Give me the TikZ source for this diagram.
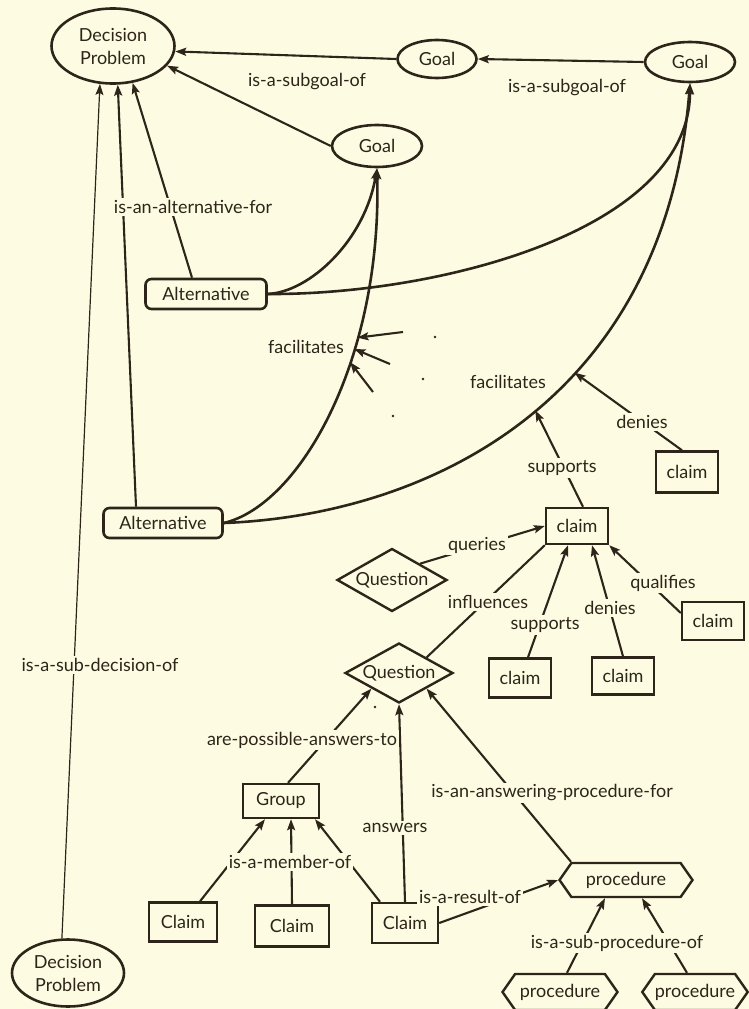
\documentclass[tikz,border=0pt]{standalone}
\usepackage{fontspec}
\setmainfont{Lato}
\usetikzlibrary{shapes.geometric,shapes.symbols,arrows.meta}
\definecolor{paper}{RGB}{253,252,226}
\definecolor{ink}{RGB}{45,37,25}
\tikzset{
  every node/.style={text=ink, font=\fontsize{18}{23}\selectfont},
  ell/.style={ellipse, draw=ink, line width=2.6pt, inner sep=0pt, align=center},
  altbox/.style={rectangle, rounded corners=6pt, draw=ink, line width=2.6pt, minimum width=119pt, minimum height=30pt, inner sep=0pt},
  clbox/.style={rectangle, draw=ink, line width=2.4pt, minimum width=62pt, minimum height=39pt, inner sep=0pt},
  quest/.style={diamond, aspect=1.8, draw=ink, line width=2.4pt, minimum width=108pt, minimum height=60pt, inner sep=0pt},
  procbox/.style={signal, signal to=west and east, signal pointer angle=110, draw=ink, line width=2.4pt, minimum width=115pt, minimum height=36pt, inner sep=0pt},
  rel/.style={fill=paper, inner sep=2pt},
  link/.style={draw=ink, line width=2.1pt, -{Stealth[length=11pt,width=8pt,inset=2pt]}},
  curvelink/.style={line width=2.6pt},
  hairlink/.style={line width=1.2pt}
}
\begin{document}
\begin{tikzpicture}[x=1pt,y=-1pt]
\fill[paper] (0,0) rectangle (749,1009);
\useasboundingbox (0,0) rectangle (749,1009);

\node[ell, minimum width=123pt, minimum height=75pt] (dp) at (113,46) {Decision\\Problem};
\node[ell, minimum width=79pt, minimum height=38pt] (goalA) at (437,59) {Goal};
\node[ell, minimum width=90pt, minimum height=40pt] (goalB) at (690,62) {Goal};
\node[ell, minimum width=90pt, minimum height=42pt] (goalC) at (377,146) {Goal};
\node[altbox, minimum width=121pt] (altA) at (206,294) {Alternative};
\node[altbox] (altB) at (163,523) {Alternative};
\node[clbox, minimum height=41pt] (clD) at (687,472) {claim};
\node[clbox, minimum height=36pt] (cl) at (577,526) {claim};
\node[quest, minimum width=110pt, minimum height=63pt] (qB) at (392,580) {Question};
\node[clbox, minimum height=38pt] (clQ) at (713,621) {claim};
\node[clbox] (clS) at (520,678) {claim};
\node[clbox, minimum height=37pt] (clN) at (623,676) {claim};
\node[quest] (q) at (399,673) {Question};
\node[clbox, minimum width=76pt, minimum height=34pt] (grp) at (281,801) {Group};
\node[clbox, minimum width=68pt] (cmA) at (183,922) {Claim};
\node[clbox, minimum width=74pt, minimum height=41pt] (cmB) at (292,926) {Claim};
\node[clbox, minimum width=66pt, minimum height=40pt] (cmC) at (405,923) {Claim};
\node[procbox, minimum width=133pt, minimum height=34pt] (pr) at (626,880) {procedure};
\node[procbox] (prA) at (560,992) {procedure};
\node[procbox, minimum width=104pt] (prB) at (695,992) {procedure};
\node[ell, minimum width=112pt, minimum height=67pt] (dpB) at (68,973) {Decision\\Problem};

\coordinate (fsA) at (403,332);
\coordinate (fsB) at (390,364);
\coordinate (fsC) at (373,392);

\begin{scope}[link]
  \draw (goalA.west) to (dp.355);
  \draw (goalB.west) to (goalA.east);
  \draw (goalC.west) to (dp.340);
  \draw ([xshift=-14pt]altA.north) to (dp.298);
  \draw ([xshift=-27pt]altB.north) to (dp.277);
  \draw[hairlink] (dpB.100) to (dp.251);
  \draw[curvelink] (altA.east) .. controls (310,292) and (365,240) .. (goalC.south);
  \draw[curvelink] (altA.east) .. controls (440,295) and (690,230) .. (goalB.south);
  \draw[curvelink] (altB.east) .. controls (300,505) and (382,360) .. (goalC.south)
    coordinate[pos=0.62] (fa) coordinate[pos=0.65] (fb) coordinate[pos=0.675] (fc);
  \draw[curvelink] (altB.east) .. controls (430,515) and (665,400) .. (goalB.south)
    coordinate[pos=0.52] (fs) coordinate[pos=0.6] (fd);
  \draw (fsA) to (fc);
  \draw (fsB) to (fb);
  \draw (fsC) to (fa);
  \draw ([xshift=-5pt]clD.north) to (fd);
  \draw ([xshift=6pt]cl.north) to (fs);
  \draw (qB.north east) to (cl.west);
  \draw[-] (cl.south west) to (q.north east);
  \draw ([xshift=8pt]clS.north) to ([xshift=-9pt]cl.south);
  \draw (clN.north) to ([xshift=15pt]cl.south);
  \draw ([yshift=8pt]clQ.west) to (cl.south east);
  \draw ([xshift=7pt]grp.north) to (q.south west);
  \draw (cmC.north) to (q.south);
  \draw ([xshift=-55pt]pr.north) to (q.south east);
  \draw ([xshift=17pt]cmA.north) to ([xshift=-16pt]grp.south);
  \draw (cmB.north) to ([xshift=10pt]grp.south);
  \draw ([xshift=-25pt]cmC.north) to ([xshift=34pt]grp.south);
  \draw (cmC.east) to (pr.west);
  \draw ([xshift=7pt]prA.north) to ([xshift=-21pt]pr.south);
  \draw ([xshift=-8pt]prB.north) to ([xshift=16pt]pr.south);
\end{scope}

\fill[ink] (435,337) circle (1.3pt) (423,379) circle (1.3pt)
  (393,416) circle (1.3pt) (375,707) circle (1.3pt);

\node[rel] (subgoalA) at (307,82) {is-a-subgoal-of};
\node[rel] (subgoalB) at (567,88) {is-a-subgoal-of};
\node[rel] (altfor) at (193,207) {is-an-alternative-for};
\node[rel] (subdec) at (100,665) {is-a-sub-decision-of};
\node[rel] (facA) at (306,347) {facilitates};
\node[rel] (facB) at (508,382) {facilitates};
\node[rel] (denA) at (642,422) {denies};
\node[rel] (supA) at (562,468) {supports};
\node[rel] (qry) at (477,545) {queries};
\node[rel] (infl) at (488,602) {influences};
\node[rel] (supB) at (545,625) {supports};
\node[rel] (denB) at (610,608) {denies};
\node[rel] (qual) at (663,583) {qualifies};
\node[rel] (possans) at (302,740) {are-possible-answers-to};
\node[rel] (ans) at (395,828) {answers};
\node[rel] (ansproc) at (552,793) {is-an-answering-procedure-for};
\node[rel] (member) at (290,862) {is-a-member-of};
\node[rel] (result) at (470,897) {is-a-result-of};
\node[rel] (subproc) at (617,943) {is-a-sub-procedure-of};
\end{tikzpicture}
\end{document}
